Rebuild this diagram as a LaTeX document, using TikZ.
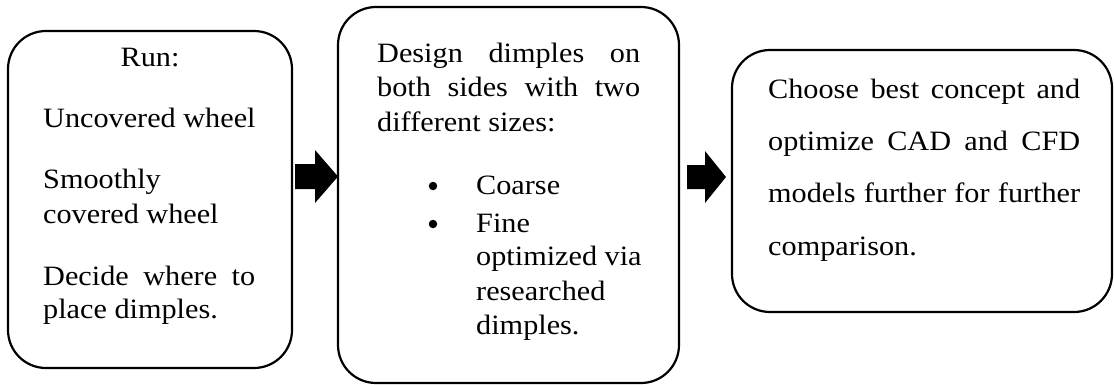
\documentclass[tikz,border=0pt]{standalone}
\usepackage{fontspec}
\setmainfont{Liberation Serif}[FakeStretch=1.08]
\begin{document}
\begin{tikzpicture}[x=1pt,y=1pt,
  stage/.style={draw, line width=2.2pt, rounded corners=38pt, inner sep=0pt, outer sep=0pt},
  txt/.style={anchor=base west, inner sep=0pt, font=\fontsize{28}{34}\selectfont},
  ctxt/.style={txt, anchor=base},
  dot/.style={circle, fill=black, inner sep=0pt, minimum size=8.5pt},
  blockarrow/.style={fill=black}]
\useasboundingbox (0,0) rectangle (1114,384);

% the three stages
\node[stage, minimum width=284pt, minimum height=337pt] (b1) at (150,184.5) {};
\node[stage, minimum width=341pt, minimum height=376pt] (b2) at (508.5,189) {};
\node[stage, minimum width=380pt, minimum height=262pt] (b3) at (922,203) {};

% stage 1 text
\node[ctxt] (t1a) at (150,317.5) {Run:};
\node[txt] (t1b) at (43,257) {Uncovered wheel};
\node[txt] (t1c) at (43,196) {Smoothly};
\node[txt] (t1d) at (43,161) {covered wheel};
\node[txt] (t1e) at (43,99) {\makebox[212pt][s]{Decide where to}};
\node[txt] (t1f) at (43,66) {place dimples.};

% stage 2 text
\node[txt] (t2a) at (377,322) {\makebox[263pt][s]{Design dimples on}};
\node[txt] (t2b) at (377,288) {\makebox[263pt][s]{both sides with two}};
\node[txt] (t2c) at (377,253) {different sizes:};
\node[dot] (u1) at (433,198) {};
\node[txt] (t2d) at (476,190) {Coarse};
\node[dot] (u2) at (433,160) {};
\node[txt] (t2e) at (476,152) {Fine};
\node[txt] (t2f) at (476,119) {optimized via};
\node[txt] (t2g) at (476,84) {researched};
\node[txt] (t2h) at (476,50) {dimples.};

% stage 3 text
\node[txt] (t3a) at (768,286) {\makebox[312pt][s]{Choose best concept and}};
\node[txt] (t3b) at (768,234) {\makebox[312pt][s]{optimize CAD and CFD}};
\node[txt] (t3c) at (768,182) {\makebox[312pt][s]{models further for further}};
\node[txt] (t3d) at (768,129) {comparison.};

% block arrows between the stages
\coordinate (a1s) at ([xshift=3pt]b1.east |- 0,207.5);
\coordinate (a1e) at (b2.west |- 0,207.5);
\fill[blockarrow] (a1s) ++(0,12.5) -- ++(20,0) -- ++(0,14) -- (a1e)
  -- ++(-23,-26.5) -- ++(0,14) -- ++(-20,0) -- cycle;

\coordinate (a2s) at ([xshift=8pt]b2.east |- 0,207);
\coordinate (a2e) at ([xshift=-6pt]b3.west |- 0,207);
\fill[blockarrow] (a2s) ++(0,12) -- ++(18,0) -- ++(0,14) -- (a2e)
  -- ++(-21,-26) -- ++(0,14) -- ++(-18,0) -- cycle;
\end{tikzpicture}
\end{document}
